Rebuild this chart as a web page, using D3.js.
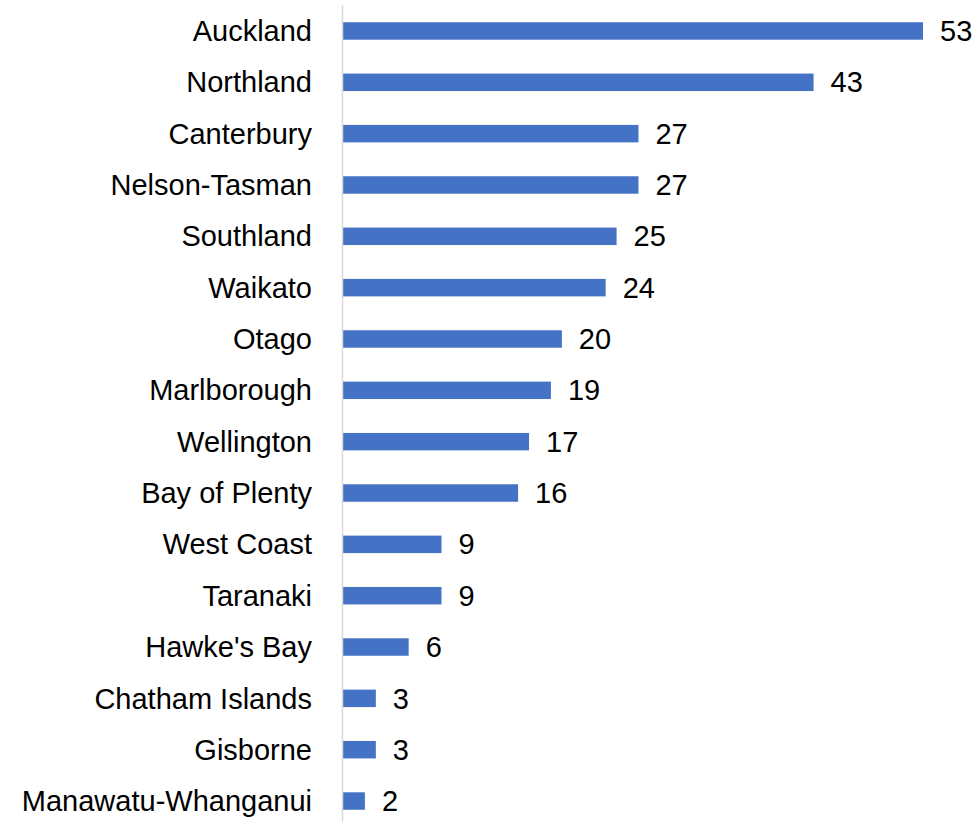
<!DOCTYPE html>
<html>
<head>
<meta charset="utf-8">
<title></title>
<style type="text/css">
  body{margin:0;background:#fff;}
  svg{display:block;}
  text{font-family:"Liberation Sans", Arial, sans-serif;fill:#000;}
</style>
</head>
<body>
<div id='graph-container'></div>
<script src="https://d3js.org/d3.v7.min.js"></script>
<script type="text/javascript">

var regions = ['Auckland','Northland','Canterbury','Nelson-Tasman','Southland','Waikato','Otago',
  'Marlborough','Wellington','Bay of Plenty','West Coast','Taranaki',"Hawke's Bay",
  'Chatham Islands','Gisborne','Manawatu-Whanganui']
var counts = [53,43,27,27,25,24,20,19,17,16,9,9,6,3,3,2]

var width = 974
var height = 822
var fontSize = 29

var svg = d3.select('#graph-container').append('svg')
  .attr('width', width)
  .attr('height', height)

var xScale = d3.scaleLinear().domain([0, 53]).range([343, 923])
var yScale = d3.scaleBand()
  .domain(regions)
  .range([5.3, 826.7])
  .paddingInner(0.66)
  .paddingOuter(0.33)

var data = regions.map((r, i)=>{return {name:r, value:counts[i]}})

svg.selectAll('rect.bar')
  .data(data)
  .enter()
  .append('rect')
  .attr('class', 'bar')
  .attr('x', xScale(0))
  .attr('y', (d)=>{return yScale(d.name)})
  .attr('width', (d)=>{return xScale(d.value) - xScale(0)})
  .attr('height', yScale.bandwidth())
  .attr('fill', '#4472C4')

// category axis: only the line, labels drawn by hand
svg.append('line')
  .attr('x1', xScale(0) - 0.5)
  .attr('x2', xScale(0) - 0.5)
  .attr('y1', 5)
  .attr('y2', height)
  .attr('stroke', '#D9D9D9')
  .attr('stroke-width', 1.5)

svg.selectAll('text.cat')
  .data(data)
  .enter()
  .append('text')
  .attr('class', 'cat')
  .attr('x', 312)
  .attr('y', (d)=>{return yScale(d.name) + yScale.bandwidth()/2})
  .attr('dy', '0.35em')
  .style('text-anchor', 'end')
  .style('font-size', fontSize + 'px')
  .text((d)=>{return d.name})

svg.selectAll('text.val')
  .data(data)
  .enter()
  .append('text')
  .attr('class', 'val')
  .attr('x', (d)=>{return xScale(d.value) + 17})
  .attr('y', (d)=>{return yScale(d.name) + yScale.bandwidth()/2})
  .attr('dy', '0.35em')
  .style('font-size', fontSize + 'px')
  .text((d)=>{return d.value})

</script>
</body>
</html>
